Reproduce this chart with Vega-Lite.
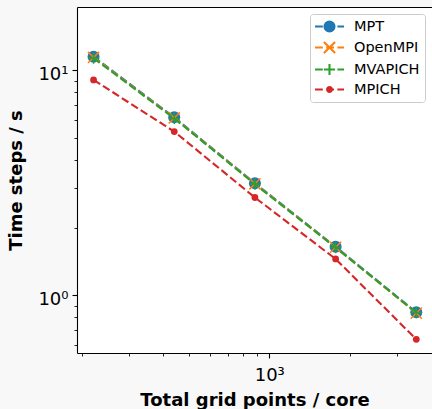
{
  "$schema": "https://vega.github.io/schema/vega-lite/v6.json",
  "width": 355,
  "height": 346,
  "autosize": {"type": "none"},
  "padding": {"left": 77, "top": 7, "right": 0, "bottom": 56},
  "background": "#f8f8f8",
  "config": {
    "view": {"stroke": null, "fill": "white"},
    "font": "DejaVu Sans",
    "axis": {
      "grid": false,
      "domainColor": "black",
      "domainWidth": 1.1,
      "tickColor": "black",
      "labelColor": "black",
      "titleColor": "black",
      "labelFont": "DejaVu Sans",
      "titleFont": "DejaVu Sans",
      "labelFontSize": 18,
      "titleFontSize": 18,
      "titleFontWeight": "bold"
    }
  },
  "data": {
    "values": [
      {"s": "MPT", "x": 221, "y": 11.49},
      {"s": "MPT", "x": 442, "y": 6.18},
      {"s": "MPT", "x": 884, "y": 3.147},
      {"s": "MPT", "x": 1768, "y": 1.644},
      {"s": "MPT", "x": 3536, "y": 0.840},
      {"s": "OpenMPI", "x": 221, "y": 11.40},
      {"s": "OpenMPI", "x": 442, "y": 6.14},
      {"s": "OpenMPI", "x": 884, "y": 3.13},
      {"s": "OpenMPI", "x": 1768, "y": 1.635},
      {"s": "OpenMPI", "x": 3536, "y": 0.833},
      {"s": "MVAPICH", "x": 221, "y": 11.33},
      {"s": "MVAPICH", "x": 442, "y": 6.11},
      {"s": "MVAPICH", "x": 884, "y": 3.12},
      {"s": "MVAPICH", "x": 1768, "y": 1.63},
      {"s": "MVAPICH", "x": 3536, "y": 0.838},
      {"s": "MPICH", "x": 221, "y": 9.06},
      {"s": "MPICH", "x": 442, "y": 5.34},
      {"s": "MPICH", "x": 884, "y": 2.72},
      {"s": "MPICH", "x": 1768, "y": 1.45},
      {"s": "MPICH", "x": 3536, "y": 0.637}
    ]
  },
  "resolve": {"axis": {"x": "independent"}},
  "encoding": {
    "x": {"field": "x", "type": "quantitative", "scale": {"type": "log", "domain": [191.7, 4047], "nice": false}, "axis": null},
    "y": {
      "field": "y", "type": "quantitative",
      "scale": {"type": "log", "domain": [0.554, 19.11], "nice": false},
      "axis": {
        "title": "Time steps / s",
        "values": [0.6, 0.7, 0.8, 0.9, 1, 2, 3, 4, 5, 6, 7, 8, 9, 10],
        "labelExpr": "datum.value == 1 ? '10⁰' : (datum.value == 10 ? '10¹' : '')",
        "tickSize": {"condition": {"test": "datum.value == 1 || datum.value == 10", "value": 5}, "value": 3},
        "tickWidth": {"condition": {"test": "datum.value == 1 || datum.value == 10", "value": 1.1}, "value": 0.85},
        "labelPadding": 4,
        "labelBaseline": "alphabetic",
        "labelOffset": 9,
        "titlePadding": 12.5
      }
    },
    "color": {
      "field": "s", "type": "nominal",
      "scale": {"domain": ["MPT", "OpenMPI", "MVAPICH", "MPICH"], "range": ["#1f77b4", "#ff7f0e", "#2ca02c", "#d62728"]},
      "legend": null
    }
  },
  "layer": [
    {
      "transform": [{"filter": "false"}],
      "mark": {"type": "point", "filled": false, "opacity": 1, "strokeWidth": 2.1, "size": 144},
      "encoding": {
        "x": {
          "field": "x", "type": "quantitative",
          "scale": {"type": "log", "domain": [191.7, 4047], "nice": false},
          "axis": {"orient": "top", "ticks": false, "labels": false, "title": null, "domain": true}
        },
        "color": {
          "field": "s", "type": "nominal",
          "scale": {"domain": ["MPT", "OpenMPI", "MVAPICH", "MPICH"], "range": ["#1f77b4", "#ff7f0e", "#2ca02c", "#d62728"]},
          "legend": {
            "title": null,
            "orient": "top-right",
            "offset": 7,
            "padding": 5,
            "strokeColor": "#cccccc",
            "fillColor": "rgba(255,255,255,0.8)",
            "cornerRadius": 3,
            "symbolSize": 144,
            "symbolStrokeWidth": 2.1,
            "symbolOffset": 7,
            "labelOffset": 17,
            "labelFontSize": 14.5,
            "labelFont": "DejaVu Sans",
            "labelColor": "black",
            "rowPadding": 1,
            "labelLimit": 200
          }
        },
        "shape": {
          "field": "s", "type": "nominal",
          "scale": {
            "domain": ["MPT", "OpenMPI", "MVAPICH", "MPICH"],
            "range": [
              "M-2.417,0L-1.117,0M-0.55,0L0.75,0M1.317,0L2.417,0M-0.833,0A0.833,0.833 0 1,0 0.833,0A0.833,0.833 0 1,0 -0.833,0M-0.533,0A0.533,0.533 0 1,0 0.533,0A0.533,0.533 0 1,0 -0.533,0M-0.233,0A0.233,0.233 0 1,0 0.233,0A0.233,0.233 0 1,0 -0.233,0M-0.05,0A0.05,0.05 0 1,0 0.05,0A0.05,0.05 0 1,0 -0.05,0",
              "M-2.417,0L-1.117,0M-0.55,0L0.75,0M1.317,0L2.417,0M-0.933,-0.933L0.933,0.933M-0.933,0.933L0.933,-0.933",
              "M-2.417,0L-1.117,0M-0.55,0L0.75,0M1.317,0L2.417,0M-0.933,0L0.933,0M0,-0.933L0,0.933",
              "M-2.417,0L-1.117,0M-0.55,0L0.75,0M1.317,0L2.417,0M-0.4,0A0.4,0.4 0 1,0 0.4,0A0.4,0.4 0 1,0 -0.4,0M-0.1,0A0.1,0.1 0 1,0 0.1,0A0.1,0.1 0 1,0 -0.1,0"
            ]
          },
          "legend": {
            "title": null,
            "orient": "top-right",
            "offset": 7,
            "padding": 5,
            "strokeColor": "#cccccc",
            "fillColor": "rgba(255,255,255,0.8)",
            "cornerRadius": 3,
            "symbolSize": 144,
            "symbolStrokeWidth": 2.1,
            "symbolOffset": 7,
            "labelOffset": 17,
            "labelFontSize": 14.5,
            "labelFont": "DejaVu Sans",
            "labelColor": "black",
            "rowPadding": 1,
            "labelLimit": 200
          }
        }
      }
    },
    {
      "transform": [{"filter": "datum.s == 'MPT'"}],
      "mark": {"type": "line", "strokeWidth": 2.1, "strokeDash": [7.8, 3.4]},
      "encoding": {
        "x": {
          "field": "x", "type": "quantitative",
          "scale": {"type": "log", "domain": [191.7, 4047], "nice": false},
          "axis": {
            "orient": "bottom",
            "title": "Total grid points / core",
            "values": [200, 300, 400, 500, 600, 700, 800, 900, 1000, 2000, 3000],
            "labelExpr": "datum.value == 1000 ? '10³' : ''",
            "tickSize": {"condition": {"test": "datum.value == 1000", "value": 5}, "value": 3},
            "tickWidth": {"condition": {"test": "datum.value == 1000", "value": 1.1}, "value": 0.85},
            "labelPadding": 8,
            "labelBaseline": "top",
            "titlePadding": 7
          }
        }
      }
    },
    {
      "transform": [{"filter": "datum.s == 'MPT'"}],
      "mark": {"type": "point", "shape": "circle", "filled": true, "size": 144, "opacity": 1, "strokeWidth": 0}
    },
    {
      "transform": [{"filter": "datum.s == 'OpenMPI'"}],
      "mark": {"type": "line", "strokeWidth": 2.1, "strokeDash": [7.8, 3.4]}
    },
    {
      "transform": [{"filter": "datum.s == 'OpenMPI'"}],
      "mark": {"type": "point", "shape": "M-1,-1L1,1M-1,1L1,-1", "filled": false, "size": 125, "opacity": 1, "strokeWidth": 1.5}
    },
    {
      "transform": [{"filter": "datum.s == 'MVAPICH'"}],
      "mark": {"type": "line", "strokeWidth": 2.1, "strokeDash": [7.8, 3.4]}
    },
    {
      "transform": [{"filter": "datum.s == 'MVAPICH'"}],
      "mark": {"type": "point", "shape": "M-1,0L1,0M0,-1L0,1", "filled": false, "size": 125, "opacity": 1, "strokeWidth": 1.5}
    },
    {
      "transform": [{"filter": "datum.s == 'MPICH'"}],
      "mark": {"type": "line", "strokeWidth": 2.1, "strokeDash": [7.8, 3.4]}
    },
    {
      "transform": [{"filter": "datum.s == 'MPICH'"}],
      "mark": {"type": "point", "shape": "circle", "filled": true, "size": 46, "opacity": 1, "strokeWidth": 0}
    }
  ]
}
